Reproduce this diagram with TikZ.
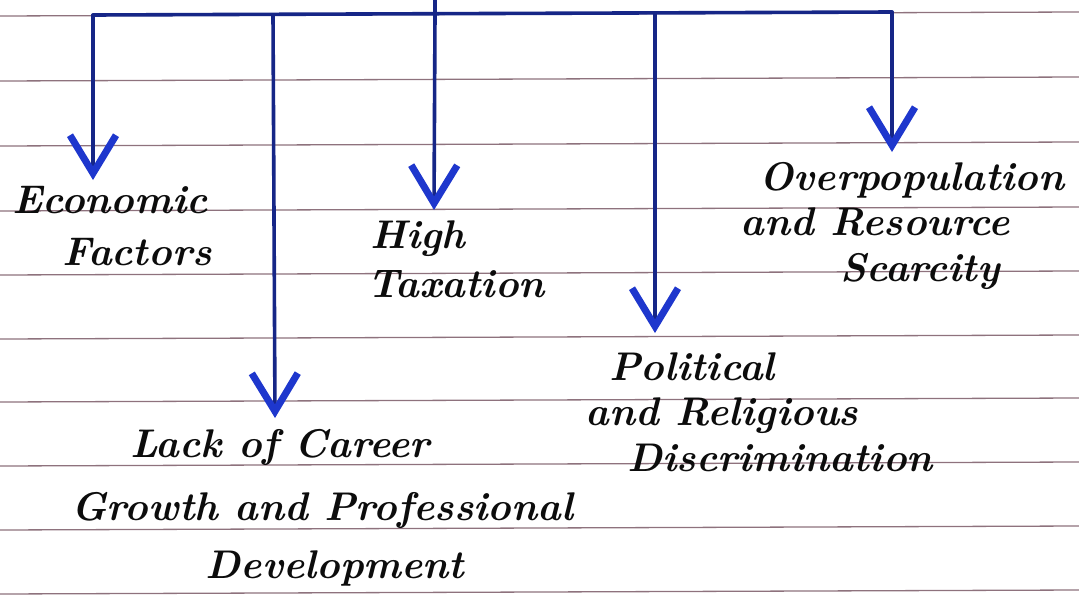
\documentclass[tikz,border=0pt]{standalone}
\usetikzlibrary{arrows.meta}
\definecolor{rulecol}{RGB}{95,55,70}
\definecolor{navy}{RGB}{22,38,135}
\definecolor{tipblue}{RGB}{30,55,205}
\definecolor{ink}{RGB}{12,12,12}
\begin{document}
\begin{tikzpicture}[x=1pt,y=-1pt,
  ruleline/.style={draw=rulecol, line width=1.3pt, opacity=0.7},
  conn/.style={draw=navy, line width=3.6pt, line cap=round, line join=round},
  arr/.style={conn, -{Straight Barb[length=38pt,width=46pt,line width=7pt,color=tipblue]}},
  lbl/.style={text=ink, font=\fontsize{40}{44}\selectfont\bfseries\itshape, inner sep=0pt, anchor=base}]
\useasboundingbox (0,0) rectangle (1079,602);
\fill[white] (0,0) rectangle (1079,602);
\foreach \y in {16,81,146,211,275,339,402,466,530,594}
  \draw[ruleline] (0,\y) -- (1079,\y-4);
% connector points
\coordinate (root) at (435,0);
\coordinate (j) at (435,14);
\coordinate (b1) at (93,15);
\coordinate (b2) at (273,15);
\coordinate (b3) at (435,14);
\coordinate (b4) at (655,13);
\coordinate (b5) at (892,12);
\coordinate (t1) at (93,180);
\coordinate (t2) at (275,418);
\coordinate (t3) at (434,210);
\coordinate (t4) at (655,333);
\coordinate (t5) at (892,152);
% labels
\node[lbl] (econ1) at (110,213) {Economic};
\node[lbl] (econ2) at (137,265) {Factors};
\node[lbl] (high1) at (418,248) {High};
\node[lbl] (high2) at (456,297) {Taxation};
\node[lbl] (over1) at (912,190) {Overpopulation};
\node[lbl] (over2) at (875,235) {and Resource};
\node[lbl] (over3) at (920,281) {Scarcity};
\node[lbl] (pol1) at (692,380) {Political};
\node[lbl] (pol2) at (722,425) {and Religious};
\node[lbl] (pol3) at (780,471) {Discrimination};
\node[lbl] (lack1) at (280,457) {Lack of Career};
\node[lbl] (lack2) at (322,520) {Growth and Professional};
\node[lbl] (lack3) at (335,578) {Development};
% connectors
\draw[conn] (root) -- (j);
\draw[conn] (b1) -- (b5);
\draw[arr] (b1) -- (t1);
\draw[arr] (b2) -- (t2);
\draw[arr] (b3) -- (t3);
\draw[arr] (b4) -- (t4);
\draw[arr] (b5) -- (t5);
\end{tikzpicture}
\end{document}
